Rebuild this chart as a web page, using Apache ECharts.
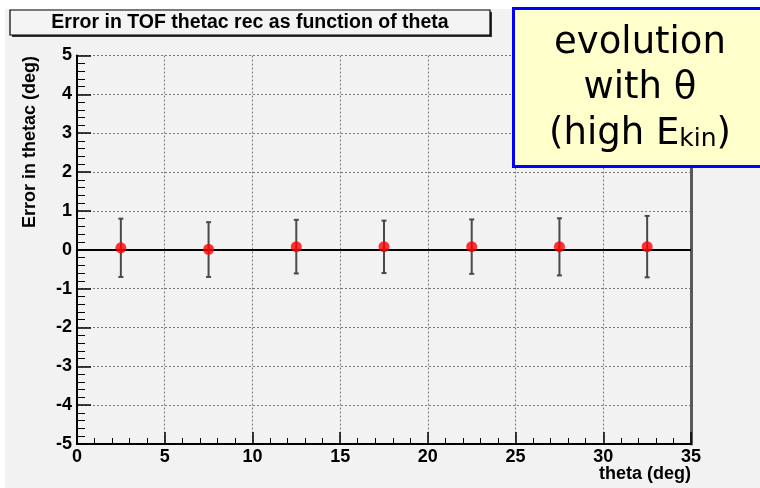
<!DOCTYPE html>
<html>
<head>
<meta charset="utf-8">
<style>
  html, body { margin: 0; padding: 0; background: #ffffff; }
  #chart { width: 760px; height: 488px; }
</style>
<script src="https://cdn.jsdelivr.net/npm/echarts@6/dist/echarts.min.js"></script>
</head>
<body>
<div id="chart"></div>
<script>
// Reconstruction error of thetac versus polar angle theta (high kinetic energy sample)
const thetaBins = [2.5, 7.5, 12.5, 17.5, 22.5, 27.5, 32.5];
const errorMean = [0.05, 0.01, 0.08, 0.08, 0.08, 0.08, 0.08];
const errorUpper = [0.80, 0.71, 0.77, 0.75, 0.78, 0.81, 0.87];
const errorLower = [-0.70, -0.70, -0.61, -0.60, -0.62, -0.66, -0.71];

const xTicks = { min: 0, max: 35, step: 5 };
const yTicks = { min: -5, max: 5, step: 1 };

const titleText = 'Error in TOF thetac rec as function of theta';
const xTitle = 'theta (deg)';
const yTitle = 'Error in thetac (deg)';

const tickFont = 'Liberation Sans';

const chart = echarts.init(document.getElementById('chart'));

const meanPoints = thetaBins.map((t, i) => [t, errorMean[i]]);
const barPoints = thetaBins.map((t, i) => [t, errorLower[i], errorUpper[i]]);

function renderErrorBar(params, api) {
  const x = api.value(0);
  const lo = api.coord([x, api.value(1)]);
  const hi = api.coord([x, api.value(2)]);
  const cap = 2.5;
  const style = { stroke: '#4a4a4a', lineWidth: 2 };
  return {
    type: 'group',
    children: [
      { type: 'line', shape: { x1: lo[0], y1: lo[1], x2: hi[0], y2: hi[1] }, style },
      { type: 'line', shape: { x1: hi[0] - cap, y1: hi[1], x2: hi[0] + cap, y2: hi[1] }, style },
      { type: 'line', shape: { x1: lo[0] - cap, y1: lo[1], x2: lo[0] + cap, y2: lo[1] }, style }
    ]
  };
}

const gridLine = { show: true, lineStyle: { color: '#7a7a7a', width: 1, type: [2, 2] } };

chart.setOption({
  backgroundColor: '#ffffff',
  animation: false,
  grid: { left: 77, right: 69, top: 55.5, bottom: 44, containLabel: false },
  xAxis: {
    type: 'value',
    min: xTicks.min, max: xTicks.max, interval: xTicks.step,
    axisLine: { show: true, onZero: false, lineStyle: { color: '#000', width: 2 } },
    axisTick: { show: true, inside: true, length: 12, lineStyle: { color: '#000', width: 1.5 } },
    minorTick: { show: true, splitNumber: 5, length: 6, lineStyle: { color: '#000', width: 1 } },
    axisLabel: {
      color: '#000', fontFamily: tickFont, fontWeight: 'bold', fontSize: 18, margin: 4,
      showMinLabel: true, showMaxLabel: true
    },
    splitLine: gridLine
  },
  yAxis: [
    {
      type: 'value',
      min: yTicks.min, max: yTicks.max, interval: yTicks.step,
      axisLine: { show: true, onZero: false, lineStyle: { color: '#000', width: 2 } },
      axisTick: { show: true, inside: true, length: 14, lineStyle: { color: '#000', width: 1.5 } },
      minorTick: { show: true, splitNumber: 5, length: 8, lineStyle: { color: '#000', width: 1 } },
      axisLabel: {
        color: '#000', fontFamily: tickFont, fontWeight: 'bold', fontSize: 18, margin: 5,
        showMinLabel: true, showMaxLabel: true
      },
      splitLine: gridLine
    },
    {
      type: 'value', position: 'right',
      min: yTicks.min, max: yTicks.max, interval: yTicks.step,
      axisLine: { show: true, onZero: false, lineStyle: { color: '#5a5a5a', width: 3 } },
      axisTick: { show: false }, axisLabel: { show: false }, splitLine: { show: false }
    }
  ],
  graphic: [
    // canvas pad
    { type: 'rect', z: -10, shape: { x: 5, y: 9, width: 755, height: 479 }, style: { fill: '#f2f2f2' } },
    // title box with drop shadow
    { type: 'rect', z: 1, shape: { x: 12, y: 12, width: 480, height: 25 }, style: { fill: '#333' } },
    { type: 'rect', z: 2, shape: { x: 10, y: 10, width: 480, height: 25 }, style: { fill: '#f4f4f4', stroke: '#000', lineWidth: 1.2 } },
    {
      type: 'text', z: 3, x: 250, y: 23,
      style: { text: titleText, font: 'bold 19.5px "Liberation Sans"', fill: '#000', textAlign: 'center', textVerticalAlign: 'middle' }
    },
    // axis titles
    {
      type: 'text', z: 3, x: 30, y: 142, rotation: Math.PI / 2,
      style: { text: yTitle, font: 'bold 18px "Liberation Sans"', fill: '#000', textAlign: 'center', textVerticalAlign: 'middle' }
    },
    {
      type: 'text', z: 3, x: 691, y: 474,
      style: { text: xTitle, font: 'bold 18px "Liberation Sans"', fill: '#000', textAlign: 'right', textVerticalAlign: 'middle' }
    },
    // annotation box
    { type: 'rect', z: 5, shape: { x: 513.5, y: 8.5, width: 260, height: 158 }, style: { fill: '#ffffcc', stroke: '#0000ff', lineWidth: 3 } },
    {
      type: 'text', z: 6, x: 640, y: 43,
      style: { text: 'evolution', font: '37px "DejaVu Sans"', fill: '#000', textAlign: 'center', textVerticalAlign: 'middle' }
    },
    {
      type: 'text', z: 6, x: 640, y: 88,
      style: { text: 'with θ', font: '37px "DejaVu Sans"', fill: '#000', textAlign: 'center', textVerticalAlign: 'middle' }
    },
    {
      type: 'text', z: 6, x: 640, y: 137.5,
      style: {
        text: '{main|(high E}{sub|kin}{main|)}', fill: '#000',
        textAlign: 'center', textVerticalAlign: 'middle',
        rich: {
          main: { fontSize: 37, fontFamily: 'DejaVu Sans', lineHeight: 44, verticalAlign: 'top', color: '#000' },
          sub: { fontSize: 25, fontFamily: 'DejaVu Sans', lineHeight: 44, verticalAlign: 'top', padding: [11, 0, 0, 0], color: '#000' }
        }
      }
    }
  ],
  series: [
    {
      type: 'custom',
      renderItem: renderErrorBar,
      data: barPoints,
      encode: { x: 0, y: [1, 2] },
      z: 3,
      silent: true
    },
    {
      type: 'scatter',
      data: meanPoints,
      symbol: 'circle',
      symbolSize: 11,
      itemStyle: { color: '#ff0000' },
      z: 4,
      markLine: {
        silent: true, symbol: 'none', label: { show: false },
        lineStyle: { color: '#000', width: 2, type: 'solid' },
        data: [{ yAxis: 0 }],
        z: 2
      }
    }
  ]
});
</script>
</body>
</html>
